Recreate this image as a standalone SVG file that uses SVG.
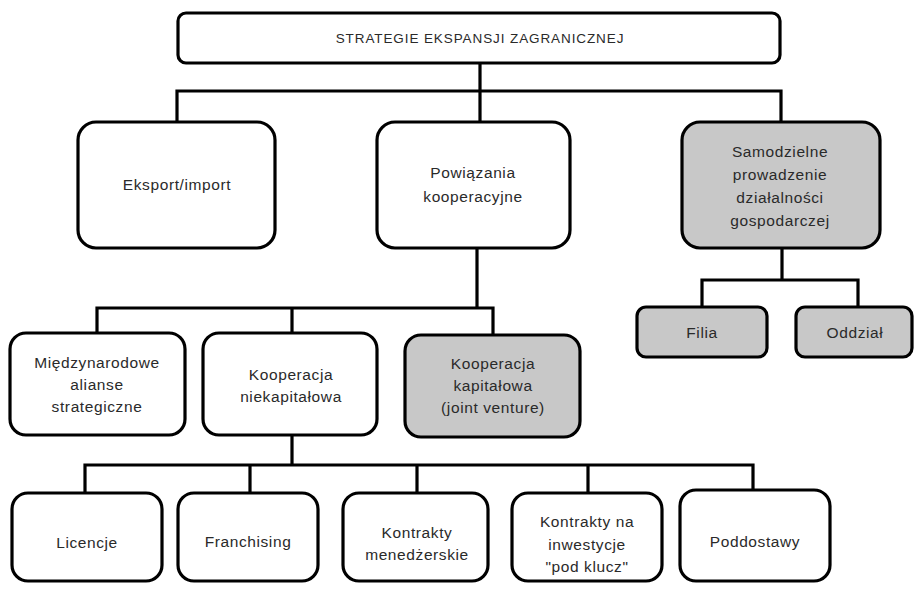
<svg xmlns="http://www.w3.org/2000/svg" width="914" height="589" viewBox="0 0 914 589">
<style>
.box{fill:#fff;stroke:#000;stroke-width:3.2}
.grey{fill:#c8c8c8}
.conn{fill:none;stroke:#000;stroke-width:3.2;stroke-linejoin:miter}
text{font-family:"Liberation Sans",Arial,sans-serif;font-size:15.5px;fill:#2a2a2a;text-anchor:middle;letter-spacing:0.6px}
.title{font-size:13.5px;letter-spacing:0.9px}
</style>
<rect width="914" height="589" fill="#fff"/>
<g id="connectors">
<path class="conn" d="M480 63V122M177 122V91H781V122"/>
<path class="conn" d="M477 248V308M97 333V308H493V335M292 308V333"/>
<path class="conn" d="M782 248V280M702 307V280H858V307"/>
<path class="conn" d="M292 435V465M85 493V465H753V490M250 465V493M417 465V493M588 465V493"/>
</g>
<g id="title"><rect class="box" x="178" y="13" width="602" height="50" rx="8"/><text class="title" x="480" y="43">STRATEGIE EKSPANSJI ZAGRANICZNEJ</text></g>
<g id="eksport"><rect class="box" x="78" y="122" width="197" height="126" rx="18"/><text x="177" y="190">Eksport/import</text></g>
<g id="powiazania"><rect class="box" x="377" y="122" width="193" height="126" rx="18"/><text x="473" y="178">Powiązania</text><text x="473" y="202">kooperacyjne</text></g>
<g id="samodzielne"><rect class="box grey" x="682" y="122" width="198" height="126" rx="18"/><text x="780" y="157">Samodzielne</text><text x="780" y="180">prowadzenie</text><text x="780" y="203">działalności</text><text x="780" y="226">gospodarczej</text></g>
<g id="filia"><rect class="box grey" x="637" y="307" width="130" height="50" rx="9"/><text x="702" y="338">Filia</text></g>
<g id="oddzial"><rect class="box grey" x="796" y="307" width="116" height="50" rx="9"/><text x="855" y="338">Oddział</text></g>
<g id="alianse"><rect class="box" x="10" y="333" width="175" height="102" rx="16"/><text x="97" y="368">Międzynarodowe</text><text x="97" y="390">alianse</text><text x="97" y="412">strategiczne</text></g>
<g id="niekapitalowa"><rect class="box" x="203" y="333" width="174" height="102" rx="16"/><text x="291" y="380">Kooperacja</text><text x="291" y="402">niekapitałowa</text></g>
<g id="kapitalowa"><rect class="box grey" x="405" y="335" width="175" height="102" rx="16"/><text x="493" y="369">Kooperacja</text><text x="493" y="391">kapitałowa</text><text x="493" y="413">(joint venture)</text></g>
<g id="licencje"><rect class="box" x="12" y="493" width="150" height="88" rx="16"/><text x="87" y="548">Licencje</text></g>
<g id="franchising"><rect class="box" x="178" y="493" width="140" height="88" rx="16"/><text x="248" y="547">Franchising</text></g>
<g id="menedzerskie"><rect class="box" x="343" y="493" width="145" height="88" rx="16"/><text x="417" y="538">Kontrakty</text><text x="417" y="560">menedżerskie</text></g>
<g id="inwestycje"><rect class="box" x="512" y="493" width="150" height="88" rx="16"/><text x="587" y="527">Kontrakty na</text><text x="587" y="550">inwestycje</text><text x="587" y="572">"pod klucz"</text></g>
<g id="poddostawy"><rect class="box" x="680" y="490" width="150" height="91" rx="16"/><text x="755" y="547">Poddostawy</text></g>
</svg>
